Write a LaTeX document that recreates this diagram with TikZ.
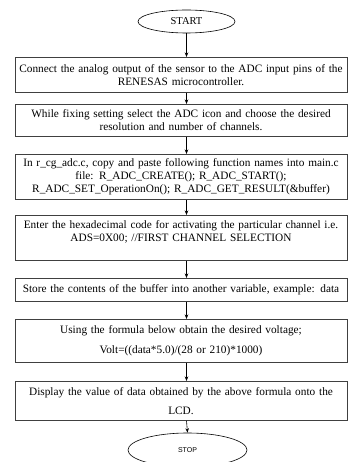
\documentclass[tikz,border=0pt]{standalone}
\usepackage{fontspec}
\setmainfont{Liberation Serif}
\setsansfont{Liberation Sans}
\usetikzlibrary{shapes.geometric,arrows.meta}

\begin{document}
\begin{tikzpicture}[x=1pt,y=-1pt,%
% common options for blocks:
block/.style = {draw=black!75, line width=0.8pt, align=center, anchor=north,
            minimum width=332pt, text width=331pt, inner sep=0,
            font=\fontsize{11.3}{13.3}\selectfont},
% common options for the ellipses:
term/.style = {ellipse, draw, line width=0.6pt, inner sep=0},
% common options for the arrows:
flow/.style = {-{Stealth[length=4.5pt,width=3.5pt]}, line width=0.6pt}]
\useasboundingbox (0,0) rectangle (352,462);
\node[term, minimum width=97pt, minimum height=23pt, font=\fontsize{10.5}{12}\selectfont] (A0) at (186.5,21.5) {START};
\node[block, minimum height=35pt] (A1) at (181,57) {Connect the analog output of the sensor to the ADC input pins of the\\ RENESAS microcontroller.};
\node[block, minimum height=32pt] (A2) at (181,104) {While fixing setting select the ADC icon and choose the desired\\ resolution and number of channels.};
\node[block, minimum height=45pt] (A3) at (181,154) {In r\_cg\_adc.c, copy and paste following function names into main.c\\ file: R\_ADC\_CREATE(); R\_ADC\_START();\\ R\_ADC\_SET\_OperationOn(); R\_ADC\_GET\_RESULT(\&buffer)};
\node[block, minimum height=45pt] (A4) at (181,215) {Enter the hexadecimal code for activating the particular channel i.e.\\ ADS=0X00; //FIRST CHANNEL SELECTION\\ \mbox{}};
\node[block, minimum height=23pt] (A5) at (181,278) {Store the contents of the buffer into another variable, example: data};
\node[block, minimum height=43pt] (A6) at (181,319) {Using the formula below obtain the desired voltage;\\[6.5pt] Volt=((data*5.0)/(28 or 210)*1000)};
\node[block, minimum height=39pt] (A7) at (181,381) {Display the value of data obtained by the above formula onto the\\[5.5pt] LCD.};
\node[term, minimum width=119pt, minimum height=34pt, font=\sffamily\fontsize{7}{8}\selectfont] (A8) at (187.5,450) {STOP};
\draw[flow] (A0.south) -- (A0.south |- A1.north);
\draw[flow] (A1.south -| A0) -- (A2.north -| A0);
\draw[flow] (A2.south -| A0) -- (A3.north -| A0);
\draw[flow] (A3.south -| A0) -- (A4.north -| A0);
\draw[flow] (A4.south -| A0) -- (A5.north -| A0);
\draw[flow] (A5.south -| A0) -- (A6.north -| A0);
\draw[flow] (A6.south -| A0) -- (A7.north -| A0);
\draw[flow] (A7.south -| A0) -- (A8.north);
\end{tikzpicture}
\end{document}
